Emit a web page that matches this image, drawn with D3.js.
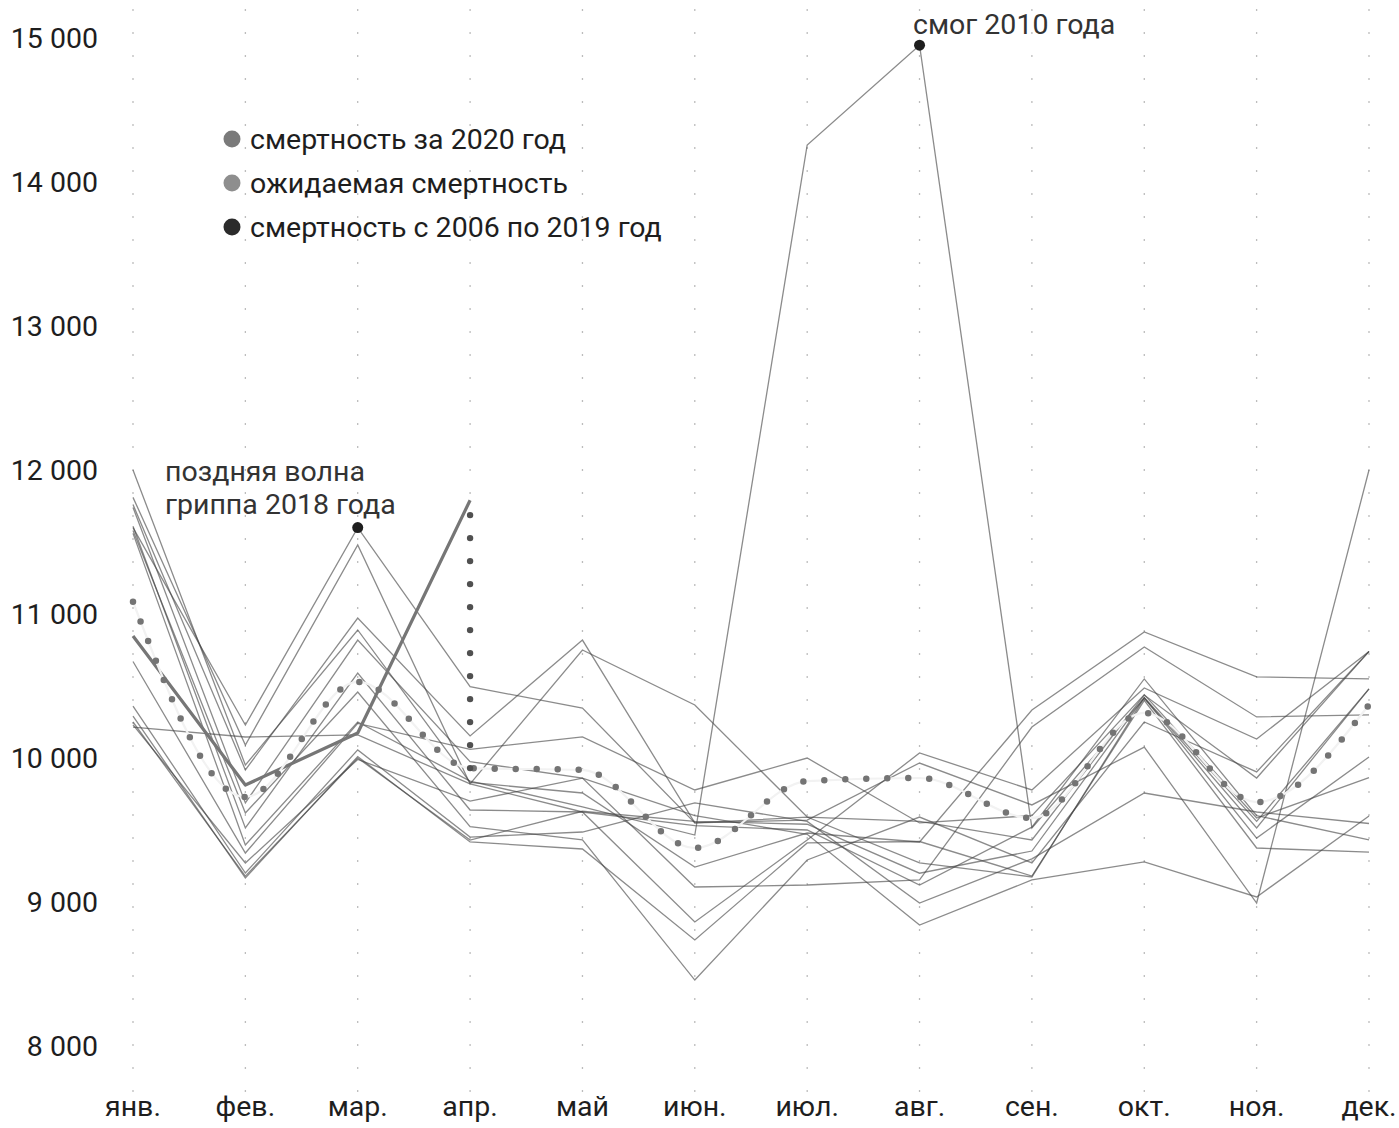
<!DOCTYPE html>
<html>
<head>
<meta charset="utf-8">
<script src="https://cdn.jsdelivr.net/npm/d3@7"></script>
<style>
  body { margin: 0; background: #fff; }
  text { font-family: Roboto, "Noto Sans", sans-serif; }
</style>
</head>
<body>
<div id="chart"></div>
<script>
// months
var months = ["янв.", "фев.", "мар.", "апр.", "май", "июн.", "июл.", "авг.", "сен.", "окт.", "ноя.", "дек."];
var yTicks = [8000, 9000, 10000, 11000, 12000, 13000, 14000, 15000];

// deaths by month, 2006-2019
var y2006 = [11560, 9396, 10250, 9840, 9660, 9465, 14257, 14950, 9514, 10417, 9514, 10480];
var y2007 = [11600, 10229, 11600, 10495, 10347, 9549, 9590, 9560, 9431, 10437, 9861, 10740];
var y2008 = [12000, 9951, 10889, 9830, 9757, 9243, 9479, 9417, 10333, 10875, 10563, 10550];
var y2009 = [11810, 10090, 11480, 9820, 10750, 10368, 9590, 9271, 9174, 10417, 9444, 10007];
var y2010 = [11760, 9917, 10972, 10153, 10819, 9549, 9569, 9965, 9674, 10076, 8993, 12000];
var y2011 = [11740, 9688, 10819, 9974, 9861, 9104, 9118, 9153, 10215, 10771, 10285, 10299];
var y2012 = [11610, 9514, 10590, 9639, 9625, 8861, 9431, 10035, 9778, 10486, 10132, 10740];
var y2013 = [11580, 9618, 10458, 9523, 9431, 8458, 9292, 9590, 9271, 10250, 9903, 10740];
var y2014 = [10670, 9340, 10240, 10060, 10146, 9778, 10000, 9549, 9600, 10440, 9583, 9864];
var y2015 = [10360, 9201, 10056, 9451, 9486, 9688, 9560, 8993, 9300, 9757, 9625, 9545];
var y2016 = [10290, 9167, 10010, 9417, 9368, 8736, 9410, 9420, 9180, 10400, 9375, 9347];
var y2017 = [10250, 9180, 10000, 9430, 9630, 9560, 9540, 9200, 9354, 10420, 9560, 10480];
var y2018 = [10230, 9271, 9990, 9700, 9860, 9600, 9470, 8840, 9153, 9278, 9035, 9597];
var y2019 = [10215, 10146, 10160, 9820, 9625, 9530, 9500, 9118, 9520, 10549, 9600, 9431];
var pastYears = [y2006, y2007, y2008, y2009, y2010, y2011, y2012, y2013, y2014, y2015, y2016, y2017, y2018, y2019];

var deaths2020 = [10847, 9812, 10174, 11790];
var expected = [11085, 9729, 10528, 9930, 9917, 9375, 9840, 9861, 9583, 10313, 9694, 10370];

// notes
var smogNote = { month: "авг.", value: 14950, text: ["смог 2010 года"] };
var fluNote = { month: "мар.", value: 11600, text: ["поздняя волна", "гриппа 2018 года"] };

var legendItems = [
  { label: "смертность за 2020 год", color: "#7a7a7a" },
  { label: "ожидаемая смертность", color: "#8e8e8e" },
  { label: "смертность с 2006 по 2019 год", color: "#2b2b2b" }
];

var w = 1399;
var h = 1128;
var fs = 28.5;

var x = d3.scalePoint().domain(months).range([133, 1369]);
var y = d3.scaleLinear().domain([8000, 15000]).range([1046, 38]);

var fmt = d3.formatLocale({ decimal: ",", thousands: " ", grouping: [3], currency: ["", ""] }).format(",d");

var svg = d3.select("#chart")
            .append("svg")
            .attr("width", w)
            .attr("height", h);

//dotted vertical grid
svg.append("g")
   .selectAll("line")
   .data(months)
   .enter()
   .append("line")
   .attr("x1", d => x(d))
   .attr("x2", d => x(d))
   .attr("y1", 10)
   .attr("y2", 1093)
   .attr("stroke", "#9a9a9a")
   .attr("stroke-width", 1.6)
   .attr("stroke-linecap", "round")
   .attr("stroke-dasharray", "0 23");

//y labels
svg.append("g")
   .selectAll("text")
   .data(yTicks)
   .enter()
   .append("text")
   .attr("x", 98)
   .attr("y", d => y(d))
   .attr("dy", "0.36em")
   .attr("text-anchor", "end")
   .attr("font-size", fs)
   .attr("fill", "#1e1e1e")
   .text(d => fmt(d));

//x labels
svg.append("g")
   .selectAll("text")
   .data(months)
   .enter()
   .append("text")
   .attr("x", d => x(d))
   .attr("y", 1116)
   .attr("text-anchor", "middle")
   .attr("font-size", fs)
   .attr("fill", "#1e1e1e")
   .text(d => d);

var line = d3.line()
             .x((d, i) => x(months[i]))
             .y(d => y(d));

//past years
svg.append("g")
   .selectAll("path")
   .data(pastYears)
   .enter()
   .append("path")
   .attr("d", line)
   .attr("fill", "none")
   .attr("stroke", "#444")
   .attr("stroke-opacity", 0.62)
   .attr("stroke-width", 1.3);

//2020
svg.append("path")
   .attr("d", line(deaths2020))
   .attr("fill", "none")
   .attr("stroke", "#767676")
   .attr("stroke-width", 3.2)
   .attr("stroke-linejoin", "round");

//expected, faint line + dots
var curve = d3.line()
              .x((d, i) => x(months[i]))
              .y(d => y(d))
              .curve(d3.curveMonotoneX);

svg.append("path")
   .attr("d", curve(expected))
   .attr("fill", "none")
   .attr("stroke", "#f2f2f2")
   .attr("stroke-width", 2.2);

svg.append("path")
   .attr("d", curve(expected))
   .attr("fill", "none")
   .attr("stroke", "#747474")
   .attr("stroke-width", 6.5)
   .attr("stroke-linecap", "round")
   .attr("stroke-dasharray", "0 21");

//april gap between 2020 and expected
var aprX = x("апр.");
var gapDots = d3.range(y(expected[3]), y(deaths2020[3]) + 10, -23);
svg.append("g")
   .selectAll("circle")
   .data(gapDots)
   .enter()
   .append("circle")
   .attr("cx", aprX)
   .attr("cy", d => d)
   .attr("r", 3.2)
   .attr("fill", "#505050");

//notes
[smogNote, fluNote].forEach(function(n) {
  svg.append("circle")
     .attr("cx", x(n.month))
     .attr("cy", y(n.value))
     .attr("r", 5.5)
     .attr("fill", "#1e1e1e");
});

svg.append("text")
   .attr("x", 913)
   .attr("y", 34)
   .attr("font-size", fs)
   .attr("fill", "#333")
   .text(smogNote.text[0]);

svg.append("text")
   .attr("x", 165)
   .attr("y", 481)
   .attr("font-size", fs)
   .attr("fill", "#333")
   .selectAll("tspan")
   .data(fluNote.text)
   .enter()
   .append("tspan")
   .attr("x", 165)
   .attr("dy", (d, i) => i ? 33 : 0)
   .text(d => d);

//legend
var legend = svg.append("g")
                .selectAll("g")
                .data(legendItems)
                .enter()
                .append("g")
                .attr("transform", (d, i) => "translate(232," + (139 + i * 44) + ")");

legend.append("circle")
      .attr("r", 8.5)
      .attr("fill", d => d.color);

legend.append("text")
      .attr("x", 18)
      .attr("dy", "0.36em")
      .attr("font-size", fs)
      .attr("fill", "#1e1e1e")
      .text(d => d.label);
</script>
</body>
</html>
